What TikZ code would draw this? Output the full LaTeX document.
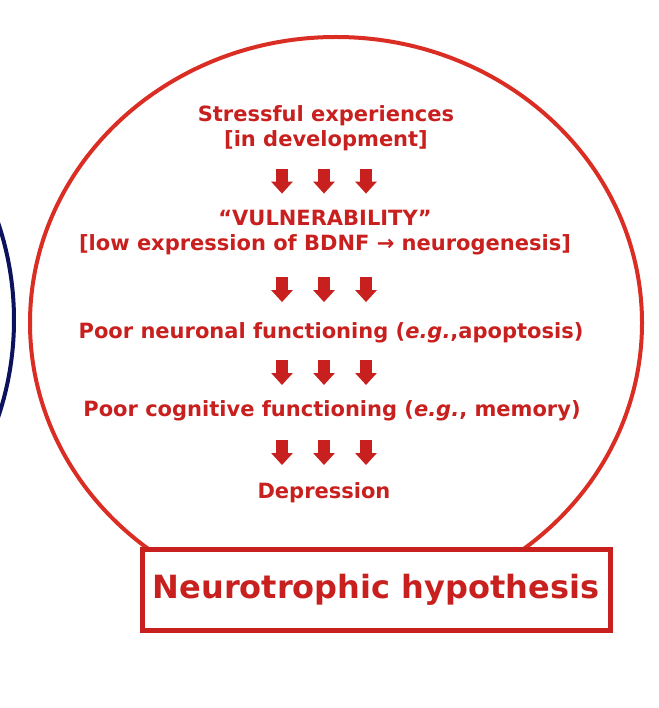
\documentclass[tikz,border=0pt]{standalone}
\usepackage{fontspec}
\setmainfont{DejaVu Sans}
\usepackage{tikz}
\usetikzlibrary{arrows.meta, calc}
\definecolor{hypred}{RGB}{200,32,30}
\definecolor{rimred}{RGB}{218,45,35}
\definecolor{navy}{RGB}{12,18,92}

\tikzset{
  steptext/.style={text=hypred, font=\bfseries\fontsize{21}{25}\selectfont, align=center, inner sep=0pt},
  downarrow/.style={draw=hypred, line width=12pt, -{Triangle[width=21pt, length=12pt]}},
  titlebox/.style={draw=hypred, line width=5pt, fill=white, minimum width=468pt, minimum height=81pt,
    text=hypred, font=\bfseries\fontsize{32}{36}\selectfont}
}

\begin{document}
\begin{tikzpicture}[x=1pt, y=-1pt]
\useasboundingbox (0,0) rectangle (658,708);
\clip (0,0) rectangle (658,708);

% neighbour circle, cut by the edge
\draw[navy, line width=4pt] (-290,320) circle[radius=304];

% the big round outline
\draw[rimred, line width=4pt] (336,323) ellipse[x radius=306, y radius=286];

% the chain of steps
\node[steptext] (stress) at (326,128) {Stressful experiences\\{[in development]}};
\node[steptext] (vuln) at (325,233) {“VULNERABILITY”\\{[low expression of BDNF → neurogenesis]}};
\node[steptext] (neuro) at (331,333) {Poor neuronal functioning (\textit{e.g.},apoptosis)};
\node[steptext] (cogn) at (332,411) {Poor cognitive functioning (\textit{e.g.}, memory)};
\node[steptext] (dep) at (324,493) {Depression};

\foreach \from/\to in {stress/vuln, vuln/neuro, neuro/cogn, cogn/dep} {
  \coordinate (mid) at ($(\from.south -| dep)!0.5!(\to.north -| dep)$);
  \foreach \dx in {-42,0,42}
    \draw[downarrow] ($(mid)+(\dx,-12)$) -- ($(mid)+(\dx,13)$);
}

% title box over the bottom of the outline
\node[titlebox] (hyp) at (376,590) {Neurotrophic hypothesis};
\end{tikzpicture}
\end{document}
